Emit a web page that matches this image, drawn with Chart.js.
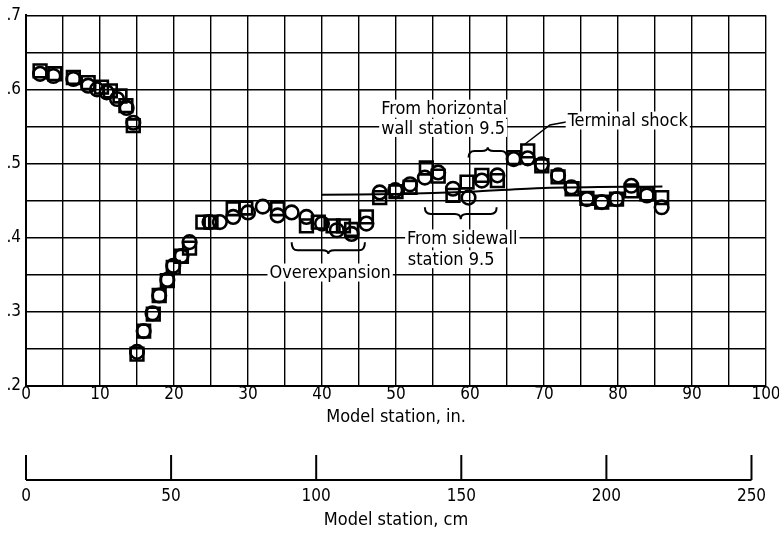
<!DOCTYPE html>
<html>
<head>
<meta charset="utf-8">
<script src="https://cdn.jsdelivr.net/npm/chart.js@4/dist/chart.umd.min.js"></script>
<style>
  html, body { margin: 0; padding: 0; background: #fff; }
  #wrap { width: 779px; height: 533px; }
</style>
</head>
<body>
<div id="wrap"><canvas id="chart10" width="779" height="533"></canvas></div>
<script>
// square symbols
const squareX = [1.9, 3.9, 6.4, 8.4, 10.2, 11.4, 12.7, 13.5, 14.5, 15.0, 15.9, 17.2, 18.0, 19.1, 19.9, 21.0, 22.1, 23.9, 25.0, 28.0, 29.7, 34.0, 37.9, 39.5, 41.5, 42.9, 44.0, 46.0, 47.8, 50.0, 51.9, 54.1, 55.7, 57.7, 59.6, 61.6, 63.7, 65.9, 67.8, 69.7, 71.9, 73.8, 75.8, 77.8, 79.8, 81.8, 83.9, 85.9];
const squareY = [.625, .621, .616, .609, .603, .598, .591, .578, .551, .243, .274, .297, .322, .342, .360, .375, .386, .421, .421, .439, .440, .439, .416, .421, .416, .416, .411, .428, .454, .462, .468, .494, .483, .457, .475, .484, .477, .508, .517, .497, .482, .466, .453, .448, .452, .463, .459, .454];
// circle symbols
const circleX = [1.9, 3.7, 6.4, 8.4, 9.6, 10.9, 12.3, 13.6, 14.5, 15.0, 15.9, 17.1, 18.0, 19.1, 19.9, 21.0, 22.1, 24.8, 26.2, 28.0, 30.0, 32.0, 34.0, 35.9, 37.9, 40.0, 42.0, 44.0, 46.0, 47.8, 49.9, 51.9, 53.9, 55.7, 57.7, 59.8, 61.6, 63.7, 65.9, 67.8, 69.7, 71.9, 73.7, 75.8, 77.8, 79.8, 81.8, 83.9, 85.9];
const circleY = [.621, .618, .614, .605, .600, .596, .587, .575, .555, .246, .274, .298, .322, .343, .362, .375, .394, .421, .421, .428, .434, .442, .430, .434, .428, .419, .410, .405, .419, .461, .464, .472, .481, .488, .466, .454, .477, .484, .506, .507, .499, .484, .468, .452, .448, .452, .470, .457, .441];
// solid curve
const curveX = [40, 50, 60, 70, 86];
const curveY = [.458, .459, .462, .467, .469];

const xTicksIn = [0, 100, 5];      // min, max, step (labels every 10)
const yTicks = [0.2, 0.7, 0.05];   // labels every .1
const cmTicks = [0, 250, 50];

const fontFam = "'DejaVu Sans Condensed', 'Liberation Sans Narrow', sans-serif";

function pts(xs, ys) {
    return xs.map((x, i) => ({x: x, y: ys[i]}));
}

// text, braces and the cm scale drawn through the chart scales
const notes = {
    id: 'notes',
    afterDatasetsDraw(chart) {
        const ctx = chart.ctx;
        const sx = chart.scales.x, sy = chart.scales.y, s2 = chart.scales.x2;
        const px = v => sx.getPixelForValue(v);
        const py = v => sy.getPixelForValue(v);
        ctx.save();
        ctx.strokeStyle = '#000';
        ctx.fillStyle = '#000';
        ctx.lineWidth = 2;

        function brace(x1, x2, yEnd, yMid, yTip) {
            const a = px(x1), b = px(x2), c = (a + b) / 2;
            const e = py(yEnd), m = py(yMid), t = py(yTip);
            const r = 6;
            ctx.beginPath();
            ctx.moveTo(a, e);
            ctx.quadraticCurveTo(a, m, a + r, m);
            ctx.lineTo(c - r, m);
            ctx.quadraticCurveTo(c, m, c, t);
            ctx.quadraticCurveTo(c, m, c + r, m);
            ctx.lineTo(b - r, m);
            ctx.quadraticCurveTo(b, m, b, e);
            ctx.stroke();
        }
        brace(35.9, 45.8, .394, .383, .378);
        brace(53.9, 63.6, .441, .432, .425);
        brace(59.8, 65.0, .508, .517, .522);

        // terminal shock leader
        ctx.lineWidth = 1.5;
        ctx.beginPath();
        ctx.moveTo(px(73.0), py(.556));
        ctx.lineTo(px(70.8), py(.552));
        ctx.lineTo(px(67.4), py(.526));
        ctx.stroke();

        ctx.font = '18px ' + fontFam;
        ctx.textBaseline = 'middle';
        function label(txt, x, y, align) {
            const w = ctx.measureText(txt).width;
            let l = px(x);
            if (align === 'center') l -= w / 2;
            ctx.fillStyle = '#fff';
            ctx.fillRect(l - 2, py(y) - 9, w + 4, 18);
            ctx.fillStyle = '#000';
            ctx.textAlign = 'left';
            ctx.fillText(txt, l, py(y) + 1);
        }
        label('Overexpansion', 41.1, .353, 'center');
        label('From sidewall', 51.5, .399);
        label('station 9.5', 51.6, .371);
        label('From horizontal', 48.0, .574);
        label('wall station 9.5', 48.0, .548);
        label('Terminal shock', 73.2, .558);

        // cm scale: base line with upward ticks
        const base = s2.top + 54;
        ctx.lineWidth = 2;
        ctx.beginPath();
        ctx.moveTo(s2.getPixelForValue(cmTicks[0]), base);
        ctx.lineTo(s2.getPixelForValue(cmTicks[1]), base);
        for (let v = cmTicks[0]; v <= cmTicks[1]; v += cmTicks[2]) {
            const p = s2.getPixelForValue(v);
            ctx.moveTo(p, base);
            ctx.lineTo(p, base - 25);
        }
        ctx.stroke();
        ctx.restore();
    }
};

const ctx10 = document.getElementById('chart10').getContext('2d');
const charInstance = new Chart(ctx10, {
    type: 'scatter',
    data: {
        datasets: [
            {
                label: 'curve',
                data: pts(curveX, curveY),
                showLine: true,
                pointRadius: 0,
                borderColor: '#000',
                borderWidth: 2,
                tension: 0.3,
            },
            {
                label: 'squares',
                data: pts(squareX, squareY),
                pointStyle: 'rect',
                pointRadius: 9,
                borderColor: '#000',
                backgroundColor: 'rgba(0,0,0,0)',
                borderWidth: 2.6,
            },
            {
                label: 'circles',
                data: pts(circleX, circleY),
                pointStyle: 'circle',
                pointRadius: 6.8,
                borderColor: '#000',
                backgroundColor: 'rgba(0,0,0,0)',
                borderWidth: 2.6,
            },
        ],
    },
    options: {
        responsive: false,
        animation: false,
        devicePixelRatio: 1,
        layout: {padding: {top: 14, right: 13, left: 0, bottom: 0}},
        plugins: {
            legend: {display: false},
            tooltip: {enabled: false},
        },
        scales: {
            x: {
                type: 'linear',
                position: 'bottom',
                weight: 1,
                min: xTicksIn[0],
                max: xTicksIn[1],
                afterFit: s => { s.height = 40; s.paddingLeft = 0; s.paddingRight = 0; },
                ticks: {
                    stepSize: xTicksIn[2],
                    autoSkip: false,
                    maxRotation: 0,
                    padding: 0,
                    color: '#000',
                    font: {family: fontFam, size: 17, lineHeight: 1.0},
                    callback: v => (v % 10 === 0 ? String(v) : ''),
                },
                grid: {color: '#000', lineWidth: 1.4, drawTicks: false},
                border: {color: '#000', width: 2},
                title: {
                    display: true,
                    text: 'Model station, in.',
                    color: '#000',
                    font: {family: fontFam, size: 18, lineHeight: 1.0},
                    padding: {top: 0, bottom: 0},
                },
            },
            x2: {
                type: 'linear',
                position: 'bottom',
                weight: 2,
                min: 0,
                max: 255,
                afterFit: s => { s.height = 107; s.paddingLeft = 0; s.paddingRight = 0; },
                ticks: {
                    stepSize: cmTicks[2],
                    includeBounds: false,
                    autoSkip: false,
                    maxRotation: 0,
                    padding: 0,
                    color: '#000',
                    font: {family: fontFam, size: 17, lineHeight: 1.0},
                },
                grid: {
                    display: true,
                    drawOnChartArea: false,
                    drawTicks: true,
                    tickLength: 62,
                    color: 'rgba(0,0,0,0)',
                    tickColor: 'rgba(0,0,0,0)',
                },
                border: {display: false},
                title: {
                    display: true,
                    text: 'Model station, cm',
                    color: '#000',
                    font: {family: fontFam, size: 18, lineHeight: 1.0},
                    padding: {top: 0, bottom: 4},
                },
            },
            y: {
                type: 'linear',
                min: yTicks[0],
                max: yTicks[1],
                afterFit: s => { s.width = 26; },
                ticks: {
                    stepSize: yTicks[2],
                    autoSkip: false,
                    padding: 5,
                    color: '#000',
                    font: {family: fontFam, size: 17},
                    callback: v => {
                        const t = Math.round(v * 10);
                        return Math.abs(v * 10 - t) < 1e-6 ? '.' + t : '';
                    },
                },
                grid: {color: '#000', lineWidth: 1.4, drawTicks: false},
                border: {color: '#000', width: 2},
            },
        },
    },
    plugins: [notes],
});
</script>
</body>
</html>
